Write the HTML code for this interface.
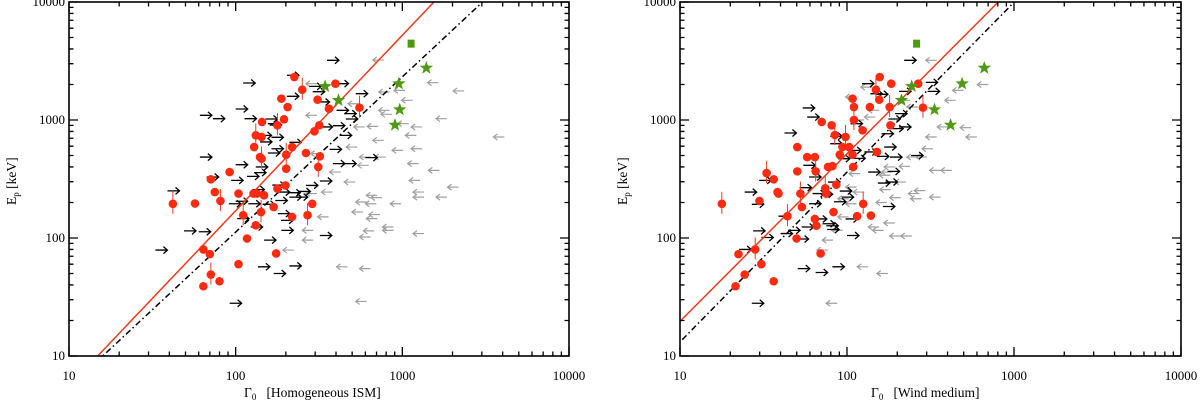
<!DOCTYPE html>
<html><head><meta charset="utf-8"><style>
html,body{margin:0;padding:0;background:#fff;width:1200px;height:409px;overflow:hidden;}
svg{display:block;font-family:"Liberation Serif",serif;overflow:hidden;}
</style></head><body>
<svg id="c" width="1200" height="409" viewBox="0 0 1200 409" xmlns="http://www.w3.org/2000/svg"></svg>
<script>
// ---------- Left panel (Homogeneous ISM) ----------
const ismRedG = [42,57,71,75,81,64,70,64,71,80,92,104,111,117,104,129,132,128,134,140,143,144,143,148,142,132,169,178,178,188,195,201,201,205,199,225,251,218,264,288,270,310,318,297,313,320,397,363,553,175,218];
const ismRedE = [195,196,314,245,206,80,73,39,49,43,362,238,156,99,60,590,741,238,238,485,470,962,718,230,166,128,183,262,902,1517,1014,387,508,1288,279,2312,1807,590,525,195,156,1486,902,802,400,492,2032,1247,1273,74,151];
const ismLowG = [33,39,49,60,61,61,67,73,92,91,94,100,100,100,102,111,113,117,119,123,136,126,129,132,139,140,145,148,151,156,156,160,164,164,166,169,173,179,179,187,188,203,203,207,210,210,210,229,238,264,276,290,310,320,320,323,353,366,383,383,403,421,448,458,525,600,403,448];
const ismLowE = [79,251,115,113,485,1096,329,1026,28,195,308,1239,418,205,146,2058,1026,333,195,124,57,257,358,400,741,652,193,96,1020,931,525,906,713,571,281,50,208,245,161,141,116,2393,1588,242,222,58,647,222,248,279,1928,1738,1422,304,105,873,3206,564,895,427,1208,741,1132,1020,1671,480,2032,427];
const ismUpG = [192,251,251,264,264,264,282,310,327,366,403,448,460,472,498,511,525,525,539,553,553,553,583,600,608,608,615,631,648,665,665,683,721,721,745,760,760,845,868,891,938,989,1042,1076,1099,1129,1159,1159,1159,1416,1432,1592,1592,1866,2018,3516,1129];
const ismUpE = [79,116,96,238,2032,1096,519,151,245,362,57,298,590,1374,166,873,202,29,413,485,102,55,115,195,146,230,883,158,220,3222,673,485,1728,1208,1117,116,124,195,553,1783,931,1469,741,427,308,571,222,109,245,2072,374,1026,222,270,1763,718,873];
const ismStarG = [344,414,953,964,904,1393];
const ismStarE = [1928,1469,2032,1224,907,2759];
const ismSqG = [1129];
const ismSqE = [4436];
const ismFitRed = [-0.743, 1.487];   // log Ep = a + b log Gamma
const ismFitBlack = [-0.582, 1.316];

// ---------- Right panel (Wind medium) ----------
const windRedG = [17.8,22.4,21.5,24.4,28.2,30.7,36.4,29.9,33,36.4,38.4,38.9,44,50.4,50.4,49.9,52.6,53.7,57.8,64.2,64.9,65.6,70.6,69.5,74.1,75.2,80.9,81.8,84.5,86.3,90.5,94,98,103,108,110,110,108,109,115,125,124,139,137,149,151,156,157,180,182,184,267,285,83,64.2,77];
const windRedE = [195,73,39,49,80,60,43,206,355,314,245,238,153,590,367,99,238,183,485,485,367,127,962,74,264,238,902,407,746,283,508,590,718,590,1517,1288,1000,508,400,153,195,817,155,1288,1807,536,1486,2312,1288,902,2032,2032,1273,166,145,400];
const windLowG = [26.9,22.6,24.4,26.9,27.4,29.8,30.7,38.9,42.2,40,44.4,50.7,49.9,52,53.5,54.3,54.8,57.8,59.3,64.9,59.3,62.2,64.2,69.5,71.4,75.2,76,77,79.3,79.3,81.8,83.6,88.1,90.5,92.9,98,100,103,105,109,123,127,134,138,149,151,153,161,164,167,170,175,177,181,184,194,205,220,242,296,304,205];
const windLowE = [28,80,245,193,115,308,101,153,776,109,116,55,98,267,124,1265,413,1059,329,51,195,238,145,235,132,127,118,298,728,630,57,203,470,250,222,145,105,553,931,473,2032,536,362,1671,1651,492,292,765,185,590,298,367,1020,485,845,1132,873,3206,500,2085,1749,1749];
const windUpG = [75,71,66,115,151,81,88,88,98,98,103,109,134,142,149,157,166,180,180,210,156,161,167,194,205,228,233,240,253,259,281,296,312,312,347,365,385,428,476,515,603,98,109,127,134,205,228,296,121];
const windUpE = [28,96,79,57,50,116,215,151,270,195,351,245,124,116,200,257,134,220,104,104,340,362,400,298,405,485,238,215,252,485,571,718,374,222,873,374,1469,1783,861,718,2000,1567,1000,1059,1208,1469,1288,3206,1900];
const windStarG = [244,212,489,334,417,664];
const windStarE = [1928,1469,2032,1224,907,2759];
const windSqG = [261];
const windSqE = [4436];
const windFitRed = [-0.126, 1.420];
const windFitBlack = [-0.320, 1.439];

const tickLabels = ["10","100","1000","10000"];
const tickVals = [10,100,1000,10000];

const NS = "http://www.w3.org/2000/svg";
const svg = document.getElementById('c');
function mk(tag, attrs, parent){
  const e = document.createElementNS(NS, tag);
  for (const k in attrs) e.setAttribute(k, attrs[k]);
  (parent||svg).appendChild(e);
  return e;
}

function panel(cfg){
  const x0=cfg.x0, x1=cfg.x1, y0=2, y1=356;
  const g = mk('g', {});
  
  
  const X = v => x0 + (Math.log10(v)-1)/3*(x1-x0);
  const Y = v => y1 - (Math.log10(v)-1)/3*(y1-y0);

  const cid = cfg.name+'-clip';
  const defs = mk('defs', {}, g);
  const cp = mk('clipPath', {id:cid}, defs);
  mk('rect', {x:x0,y:y0,width:x1-x0,height:y1-y0}, cp);
  const plot = mk('g', {'clip-path':'url(#'+cid+')'}, g);
  
  

  function fit(f, color, dash, nm){
    const xa = Math.max(0.9, (0.95 - f[0]) / f[1]);
    const xb = Math.min(4.05, (4.05 - f[0]) / f[1]);
    const l = mk('line', {x1:X(Math.pow(10,xa)), y1:Y(Math.pow(10,f[0]+f[1]*xa)), x2:X(Math.pow(10,xb)), y2:Y(Math.pow(10,f[0]+f[1]*xb)), stroke:color, 'stroke-width':1.5, 'stroke-dasharray':dash}, plot);
    
    
  }

  cfg.upG.forEach((v,i)=>{
    const px=X(v), py=Y(cfg.upE[i]);
    const a = mk('path', {d:`M${px+11},${py} L${px},${py} M${px+4},${py-3} L${px},${py} L${px+4},${py+3}`, stroke:'#a0a0a0', 'stroke-width':1.2, fill:'none'}, plot);
    
    
  });
  cfg.lowG.forEach((v,i)=>{
    const px=X(v), py=Y(cfg.lowE[i]);
    const a = mk('path', {d:`M${px},${py} L${px+12},${py} M${px+8},${py-3.5} L${px+12},${py} L${px+8},${py+3.5}`, stroke:'#000', 'stroke-width':1.3, fill:'none'}, plot);
    
    
  });
  fit(cfg.fitBlack, '#000', '6,3,1.5,3', 'fit-line-dash-dot');
  fit(cfg.fitRed, '#f03a1e', '', 'fit-line-red');
  cfg.redG.forEach((v,i)=>{
    const px=X(v), py=Y(cfg.redE[i]);
    if (i%4===0){
      const eb = mk('line', {x1:px,y1:py-12,x2:px,y2:py+10,stroke:'#f03a1e','stroke-width':1}, plot);
      
      
    }
    const c = mk('circle', {cx:px, cy:py, r:4.3, fill:'#ff2a10'}, plot);
    
    
  });
  cfg.starG.forEach((v,i)=>{
    const px=X(v), py=Y(cfg.starE[i]);
    let d='';
    for(let k=0;k<10;k++){
      const r = k%2===0?7:2.9, ang = -Math.PI/2 + k*Math.PI/5;
      d += (k?'L':'M')+(px+r*Math.cos(ang)).toFixed(1)+','+(py+r*Math.sin(ang)).toFixed(1);
    }
    const s = mk('path', {d:d+'Z', fill:'#4f9a12'}, plot);
    
    
  });
  cfg.sqG.forEach((v,i)=>{
    const px=X(v), py=Y(cfg.sqE[i]);
    const s = mk('rect', {x:px-3.5, y:py-4, width:7, height:8, fill:'#4f9a12'}, plot);
    
    
  });

  const fr = mk('rect', {x:x0,y:y0,width:x1-x0,height:y1-y0,fill:'none',stroke:'#000','stroke-width':1.6}, g);
  
  
  let d='';
  for(let dec=1; dec<4; dec++){
    for(let m=1;m<=10;m++){
      const v=m*Math.pow(10,dec);
      if (m===10 && dec<3) continue;
      const L = (m===1||m===10)?9:4.5;
      const px=X(v), py=Y(v);
      d += `M${px},${y1}v${-L}M${px},${y0}v${L}M${x0},${py}h${L}M${x1},${py}h${-L}`;
    }
  }
  const tk = mk('path', {d:d, stroke:'#000','stroke-width':1.3, fill:'none'}, g);
  
  
  tickVals.forEach((v,i)=>{
    const tx = mk('text', {x:X(v), y:380, 'text-anchor':'middle', 'font-size':13}, g);
    tx.textContent = tickLabels[i];
    
    
    const ty = mk('text', {x:x0-4, y:Y(v)+4, 'text-anchor':'end', 'font-size':13}, g);
    ty.textContent = tickLabels[i];
    
    
  });
  const xt = mk('text', {x:cfg.xtX, y:397, 'font-size':13.5}, g);
  xt.innerHTML = 'Γ<tspan font-size="9" dy="3">0</tspan><tspan dy="-3" xml:space="preserve">   ['+cfg.label+']</tspan>';
  
  
  const yt = mk('text', {transform:`translate(${x0-53},205) rotate(-90)`, 'font-size':13.5}, g);
  yt.innerHTML = 'E<tspan font-size="9" dy="3">p</tspan><tspan dy="-3"> [keV]</tspan>';
  
  
}

panel({name:'panel-homogeneous-ism', x0:69, x1:569, label:'Homogeneous ISM', xtX:244,
  redG:ismRedG, redE:ismRedE, lowG:ismLowG, lowE:ismLowE, upG:ismUpG, upE:ismUpE,
  starG:ismStarG, starE:ismStarE, sqG:ismSqG, sqE:ismSqE, fitRed:ismFitRed, fitBlack:ismFitBlack});
panel({name:'panel-wind-medium', x0:680, x1:1181, label:'Wind medium', xtX:871,
  redG:windRedG, redE:windRedE, lowG:windLowG, lowE:windLowE, upG:windUpG, upE:windUpE,
  starG:windStarG, starE:windStarE, sqG:windSqG, sqE:windSqE, fitRed:windFitRed, fitBlack:windFitBlack});
</script>
</body></html>
